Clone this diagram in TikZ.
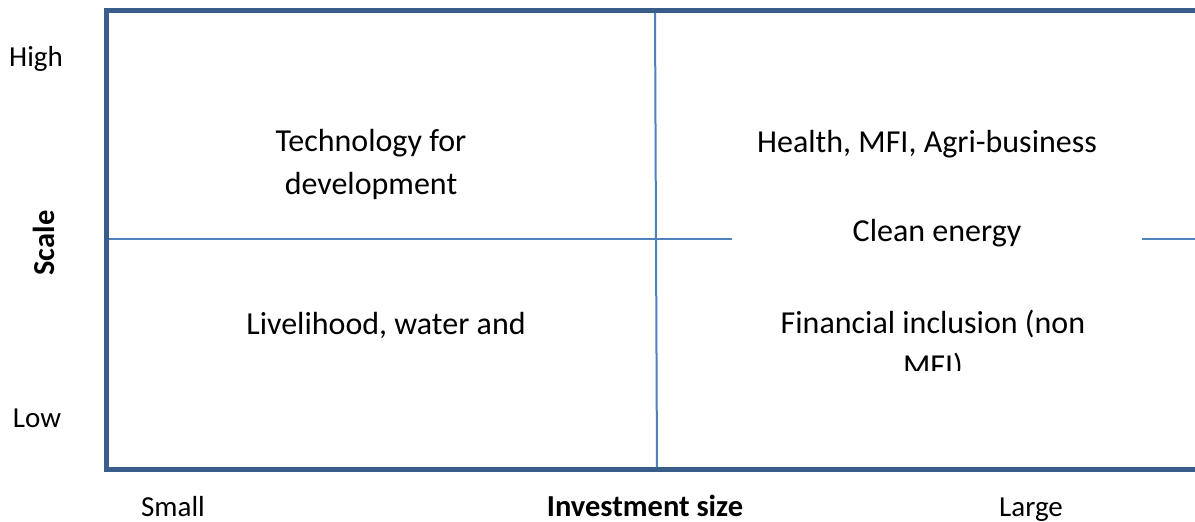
\documentclass[tikz,border=0pt]{standalone}
\usepackage{fontspec}
\setmainfont{Carlito}
\usepackage{xcolor}

\definecolor{axisblue}{HTML}{385D8A}
\definecolor{lineblue}{HTML}{4F81BD}

\tikzset{
  quadtext/.style={font=\fontsize{32}{43}\selectfont, align=center, inner sep=0pt, anchor=base},
  axislabel/.style={font=\fontsize{29}{34}\selectfont, inner sep=0pt, anchor=base},
  axistitle/.style={font=\fontsize{30.5}{35}\selectfont\bfseries, inner sep=0pt, anchor=base}
}

\begin{document}
\begin{tikzpicture}[x=1pt,y=1pt,yscale=-1,xscale=1]
    \useasboundingbox (0,0) rectangle (1195,522);

    % corners of the matrix
    \coordinate (tl) at (106,10);
    \coordinate (bl) at (106,469.5);
    \coordinate (tr) at (1195,10);
    \coordinate (br) at (1195,469.5);
    \coordinate (midtop) at (655,10);
    \coordinate (midbot) at (657,469.5);
    \coordinate (midleft) at (106,239.3);
    \coordinate (midright) at (1195,239.3);

    % Straight Lines
    \draw [lineblue, line width=2pt] (midtop) -- (midbot);
    \draw [lineblue, line width=2pt] (midleft) -- (midright);
    % Axes
    \draw [axisblue, line width=5pt, line join=miter] (tr) -- (tl) -- (bl) -- (br);

    % Text Node
    \node [axislabel] (high) at (36,66.7) {High};
    % Text Node
    \node [axislabel] (low) at (37,427) {Low};
    % Text Node
    \node [axistitle, rotate=90] (scale) at (54,243) {Scale};
    % Text Node
    \node [axislabel] (small) at (173,516) {Small};
    % Text Node
    \node [axistitle] (invest) at (645,516) {Investment size};
    % Text Node
    \node [axislabel] (large) at (1031,516) {Large};

    % Text Node
    \node [quadtext] (tech) at (371,194) {Technology for\\development};
    % Text Node
    \node [quadtext] (health) at (927,152) {Health, MFI, Agri-business};
    % Text Node
    \node [quadtext, fill=white, minimum width=410pt, minimum height=30pt] (clean) at (937,241) {Clean energy};
    % Text Node
    \node [quadtext] (liveli) at (386,334) {Livelihood, water and};
    % Text Node
    \begin{scope}
      \clip (700,300) rectangle (1195,370);
      \node [quadtext] (fin) at (933,376) {Financial inclusion (non\\MFI)};
    \end{scope}

\end{tikzpicture}
\end{document}
